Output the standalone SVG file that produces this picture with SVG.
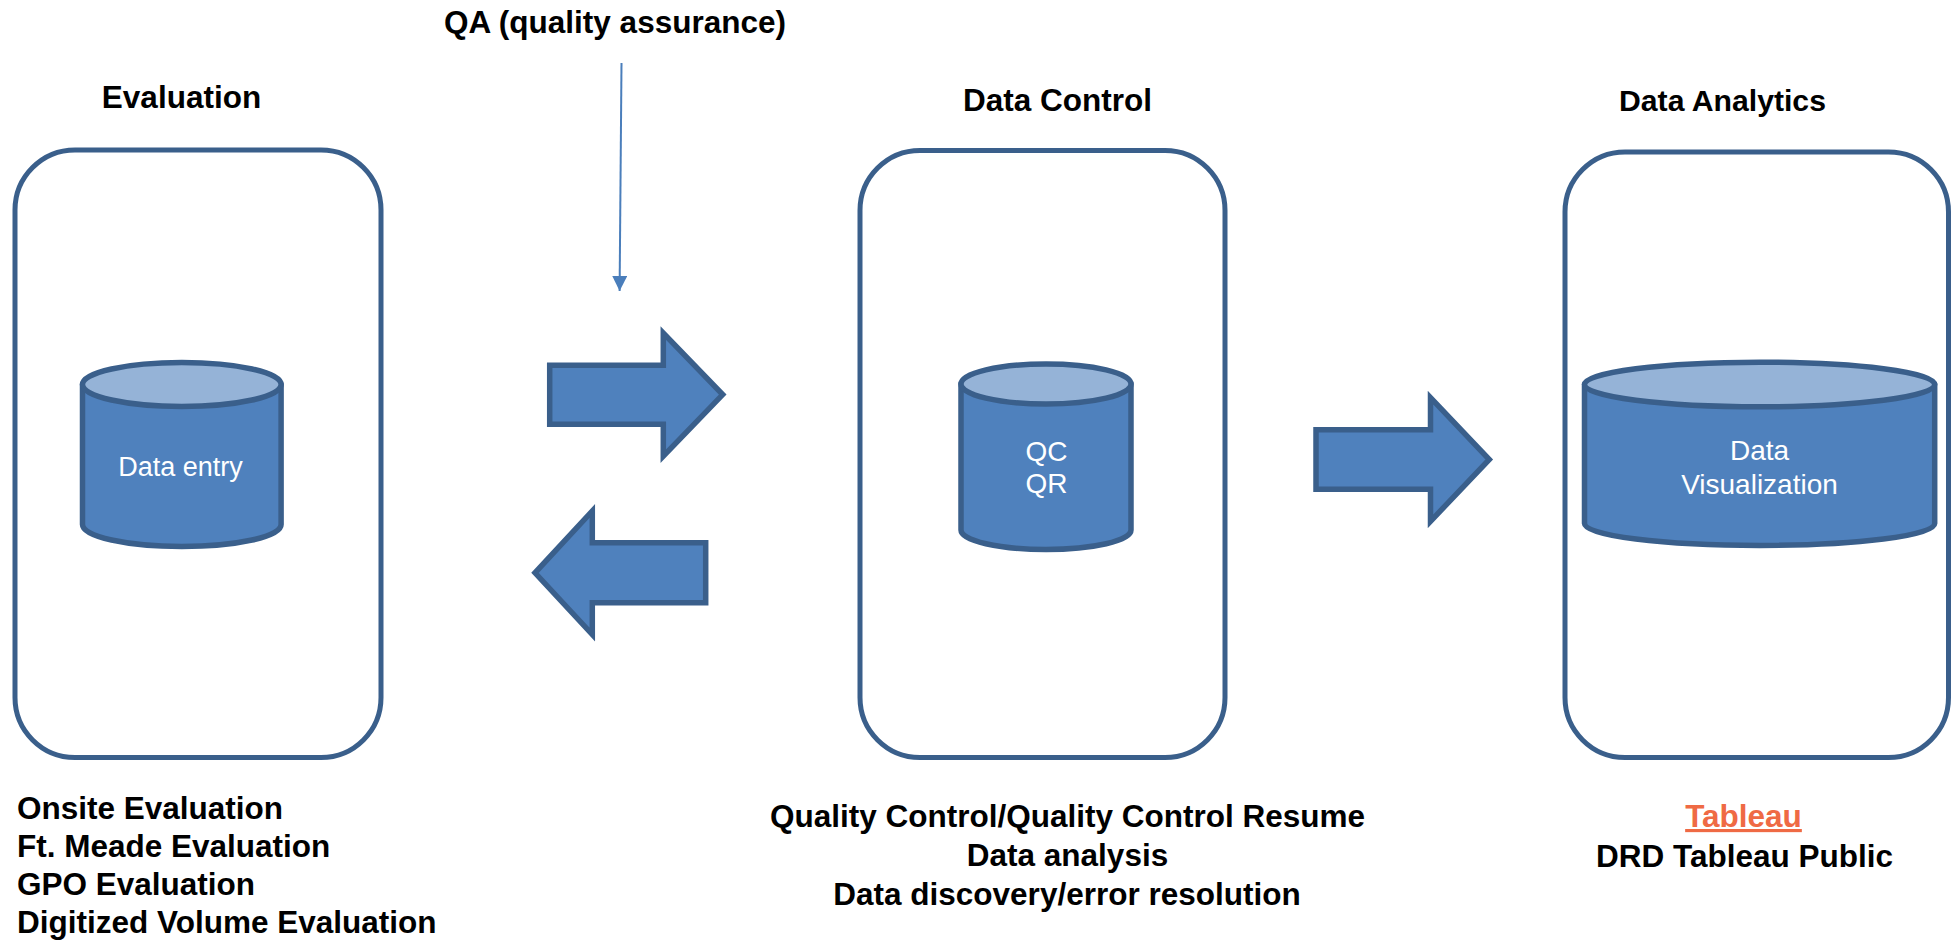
<svg xmlns="http://www.w3.org/2000/svg" width="1951" height="942" viewBox="0 0 1951 942">
<style>
.box{fill:#FFFFFF;stroke:#3A5F8B;stroke-width:5}
.body{fill:#4F81BD;stroke:#3A5F8B;stroke-width:5.5;stroke-linejoin:round}
.top{fill:#95B3D7;stroke:#3A5F8B;stroke-width:5.5}
.blk{fill:#4F81BD;stroke:#3A5F8B;stroke-width:5.5;stroke-linejoin:miter}
.in{font-family:"Liberation Sans",Arial,sans-serif;fill:#FFFFFF;text-anchor:middle}
.hd{font-family:"Liberation Sans",Arial,sans-serif;font-weight:bold;fill:#000000;font-size:31.5px}
.mid{text-anchor:middle}
.qa{fill:none;stroke:#4A7EBB;stroke-width:2}
</style>
<defs>
<marker id="ah" markerUnits="userSpaceOnUse" viewBox="0 0 16 15" refX="15" refY="7.5" markerWidth="16" markerHeight="15" orient="auto">
<path d="M0,0 L15,7.5 L0,15 Z" fill="#4A7EBB"/>
</marker>
</defs>
<rect width="1951" height="942" fill="#FFFFFF"/>

<g id="qa-label">
<text class="hd mid" x="615" y="33">QA (quality assurance)</text>
</g>

<g id="evaluation">
<text class="hd mid" x="181.5" y="108">Evaluation</text>
<rect class="box" x="15" y="150" width="366" height="607.5" rx="60" ry="60"/>
<g id="data-entry">
<path class="body" d="M82.5,384.5 V524.5 A99.3,22 0 0 0 281.1,524.5 V384.5 Z"/>
<ellipse class="top" cx="181.8" cy="384.5" rx="99.3" ry="22"/>
<text class="in" x="180.5" y="476" font-size="27">Data entry</text>
</g>
<text class="hd" x="17" y="819">Onsite Evaluation</text>
<text class="hd" x="17" y="857">Ft. Meade Evaluation</text>
<text class="hd" x="17" y="895">GPO Evaluation</text>
<text class="hd" x="17" y="933">Digitized Volume Evaluation</text>
</g>

<g id="data-control">
<text class="hd mid" x="1057.5" y="110.5">Data Control</text>
<rect class="box" x="860" y="150.5" width="365" height="607" rx="60" ry="60"/>
<g id="qc-qr">
<path class="body" d="M961,384 V530 A85,19.5 0 0 0 1131,530 V384 Z"/>
<ellipse class="top" cx="1046" cy="384" rx="85" ry="20"/>
<text class="in" x="1046.5" y="461" font-size="28">QC</text>
<text class="in" x="1046.5" y="492.5" font-size="28">QR</text>
</g>
<text class="hd mid" x="1067.5" y="827">Quality Control/Quality Control Resume</text>
<text class="hd mid" x="1067.5" y="866">Data analysis</text>
<text class="hd mid" x="1067" y="905">Data discovery/error resolution</text>
</g>

<g id="data-analytics">
<text class="hd mid" x="1722.5" y="111" style="font-size:30.2px">Data Analytics</text>
<rect class="box" x="1565" y="152" width="383.5" height="605.5" rx="60" ry="60"/>
<g id="data-visualization">
<path class="body" d="M1584.5,384.5 V523.5 A175.1,22 0 0 0 1934.7,523.5 V384.5 Z"/>
<ellipse class="top" cx="1759.6" cy="384.5" rx="175.1" ry="22.3"/>
<text class="in" x="1759.5" y="460" font-size="28">Data</text>
<text class="in" x="1759.5" y="494" font-size="28">Visualization</text>
</g>
<text class="hd mid" x="1743.5" y="827" fill="#EF6A44" style="fill:#EF6A44;text-decoration:underline">Tableau</text>
<text class="hd mid" x="1744.5" y="866.5">DRD Tableau Public</text>
</g>

<g id="connectors">
<path class="qa" d="M621.5,63 L619.6,291" marker-end="url(#ah)"/>
<path class="blk" d="M549.7,365.3 H663.3 V333 L722.7,394.6 L663.3,456.2 V424.3 H549.7 Z"/>
<path class="blk" d="M705.7,542.8 H592.3 V511 L535,572.8 L592.3,634.6 V602.8 H705.7 Z"/>
<path class="blk" d="M1316,429.7 H1430.5 V397.7 L1489.3,459.5 L1430.5,521.3 V489.2 H1316 Z"/>
</g>
</svg>
